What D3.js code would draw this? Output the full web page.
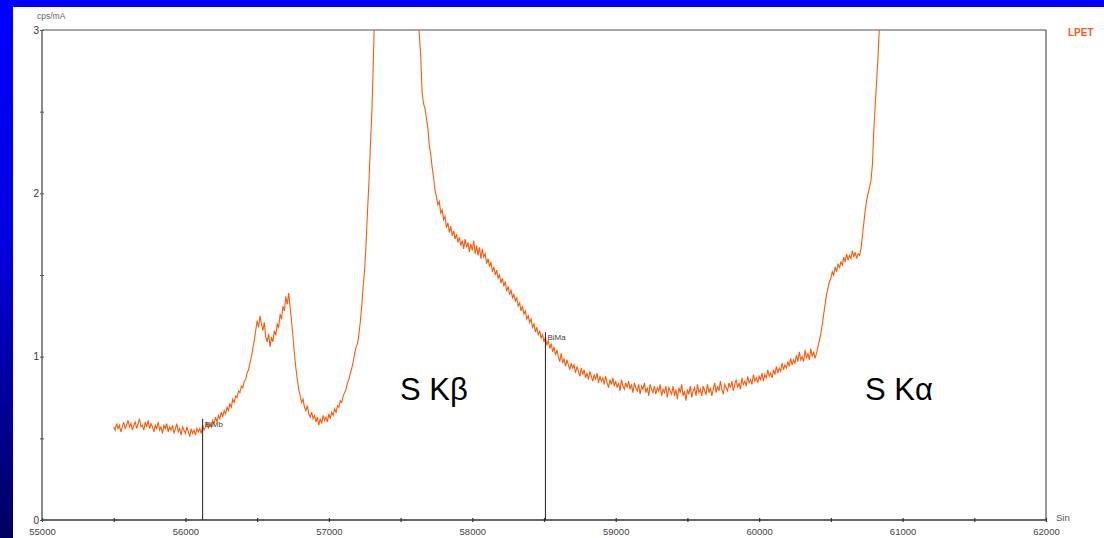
<!DOCTYPE html>
<html>
<head>
<meta charset="utf-8">
<script src="https://cdn.jsdelivr.net/npm/d3@7/dist/d3.min.js"></script>
<style>
  html, body { margin: 0; padding: 0; background: #fff; }
  svg { display: block; }
  text { font-family: "Liberation Sans", Arial, sans-serif; }
</style>
</head>
<body>
<svg id="chart" width="1104" height="538"></svg>
<script>
// ---- data ----
const scanStart = 55500;   // sin units
const scanStep = 10;
const counts = [
  0.57,0.55,0.59,0.56,0.58,0.54,0.57,0.60,0.56,0.58,
  0.61,0.57,0.59,0.55,0.58,0.60,0.56,0.59,0.62,0.57,
  0.58,0.55,0.60,0.57,0.61,0.56,0.59,0.57,0.54,0.58,
  0.56,0.60,0.55,0.57,0.53,0.58,0.56,0.59,0.54,0.57,
  0.55,0.58,0.53,0.56,0.59,0.54,0.56,0.52,0.57,0.55,
  0.53,0.57,0.54,0.51,0.56,0.53,0.55,0.52,0.56,0.54,
  0.56,0.53,0.58,0.55,0.57,0.60,0.56,0.59,0.57,0.61,
  0.59,0.63,0.60,0.64,0.62,0.66,0.63,0.67,0.65,0.69,
  0.67,0.71,0.69,0.74,0.72,0.76,0.75,0.79,0.78,0.82,
  0.81,0.85,0.86,0.90,0.92,0.96,1.00,1.05,1.10,1.16,
  1.22,1.18,1.25,1.20,1.16,1.21,1.12,1.09,1.14,1.06,
  1.12,1.09,1.16,1.13,1.20,1.18,1.26,1.23,1.31,1.28,
  1.37,1.32,1.39,1.30,1.22,1.12,1.02,0.93,0.86,0.80,
  0.76,0.72,0.74,0.69,0.67,0.70,0.65,0.63,0.66,0.62,
  0.64,0.60,0.63,0.58,0.62,0.59,0.64,0.61,0.63,0.60,
  0.65,0.62,0.66,0.64,0.68,0.66,0.70,0.69,0.73,0.72,
  0.76,0.78,0.80,0.84,0.86,0.90,0.93,0.97,1.02,1.06,
  1.08,1.14,1.22,1.32,1.44,1.54,1.70,1.90,2.08,2.30,
  2.50,2.80,3.15,3.50,3.90,4.30,4.70,5.05,5.30,5.50,
  5.65,5.75,5.82,5.86,5.88,5.86,5.82,5.75,5.65,5.55,
  5.40,5.25,5.05,4.85,4.65,4.45,4.25,4.05,3.85,3.65,
  3.45,3.28,3.12,2.98,2.85,2.62,2.55,2.52,2.46,2.40,
  2.30,2.24,2.16,2.10,2.02,1.98,1.93,1.95,1.88,1.90,
  1.84,1.86,1.79,1.82,1.76,1.80,1.74,1.77,1.72,1.75,
  1.70,1.73,1.68,1.71,1.66,1.72,1.67,1.70,1.64,1.69,
  1.65,1.71,1.63,1.68,1.62,1.67,1.60,1.66,1.61,1.63,
  1.57,1.60,1.55,1.58,1.52,1.55,1.50,1.53,1.48,1.50,
  1.45,1.48,1.43,1.46,1.40,1.43,1.38,1.41,1.36,1.38,
  1.34,1.36,1.31,1.33,1.28,1.31,1.26,1.28,1.23,1.25,
  1.21,1.23,1.18,1.20,1.15,1.18,1.13,1.16,1.11,1.14,
  1.09,1.12,1.07,1.10,1.05,1.08,1.03,1.06,1.01,1.04,
  1.00,0.97,1.02,0.96,0.99,0.94,0.98,0.95,0.92,0.96,
  0.93,0.95,0.90,0.94,0.91,0.88,0.93,0.89,0.92,0.87,
  0.90,0.86,0.91,0.88,0.85,0.89,0.86,0.90,0.84,0.88,
  0.85,0.87,0.83,0.88,0.84,0.81,0.86,0.83,0.87,0.82,
  0.85,0.81,0.84,0.79,0.86,0.82,0.80,0.84,0.81,0.85,
  0.80,0.83,0.78,0.84,0.81,0.79,0.83,0.77,0.82,0.80,
  0.84,0.78,0.81,0.76,0.83,0.80,0.78,0.82,0.77,0.81,
  0.79,0.83,0.76,0.80,0.78,0.82,0.75,0.81,0.79,0.77,
  0.82,0.76,0.80,0.74,0.81,0.78,0.83,0.76,0.79,0.73,
  0.80,0.77,0.82,0.75,0.79,0.81,0.76,0.83,0.78,0.80,
  0.76,0.82,0.79,0.77,0.83,0.78,0.81,0.76,0.80,0.84,
  0.78,0.82,0.79,0.85,0.80,0.77,0.83,0.81,0.79,0.84,
  0.81,0.85,0.79,0.83,0.86,0.81,0.84,0.80,0.87,0.83,
  0.85,0.82,0.88,0.84,0.86,0.83,0.89,0.85,0.87,0.84,
  0.88,0.86,0.90,0.85,0.89,0.87,0.92,0.88,0.90,0.87,
  0.92,0.89,0.94,0.90,0.93,0.91,0.96,0.92,0.95,0.93,
  0.97,0.94,0.99,0.95,0.98,0.96,1.01,0.97,1.03,0.98,
  1.00,0.97,1.04,0.99,1.02,0.98,1.05,1.00,1.03,0.99,
  1.02,1.06,1.10,1.14,1.20,1.26,1.32,1.38,1.42,1.46,
  1.48,1.52,1.50,1.55,1.52,1.57,1.54,1.58,1.56,1.61,
  1.58,1.63,1.59,1.62,1.60,1.65,1.61,1.64,1.60,1.63,
  1.62,1.66,1.74,1.82,1.90,1.96,2.00,2.04,2.08,2.18,
  2.40,2.55,2.70,2.86,3.05,3.30,3.60
];
const markerNames = ["BiMb", "BiMa"];
const markerPositions = [56120, 58510];
const markerHeights = [0.62, 1.15];
const peakLabels = ["S K\u03B2", "S K\u03B1"];
const peakLabelPositions = [57496, 60738];
const peakLabelHeights = [0.735, 0.735];
const xTicks = [55000,55500,56000,56500,57000,57500,58000,58500,59000,59500,60000,60500,61000,61500,62000];
const xTickLabels = ["55000","56000","57000","58000","59000","60000","61000","62000"];
const yTicks = [0,0.5,1,1.5,2,2.5,3];
const yTickLabels = ["0","1","2","3"];
const seriesName = "LPET";

// ---- layout ----
const svg = d3.select("#chart");
const W = 1104, H = 538;
const x = d3.scaleLinear().domain([55000, 62000]).range([42, 1046]);
const y = d3.scaleLinear().domain([0, 3]).range([520, 30]);

const defs = svg.append("defs");
const grad = defs.append("linearGradient").attr("id", "leftGrad")
  .attr("x1", 0).attr("y1", 0).attr("x2", 0).attr("y2", 1);
grad.append("stop").attr("offset", "0%").attr("stop-color", "#0000ff");
grad.append("stop").attr("offset", "45%").attr("stop-color", "#0000e0");
grad.append("stop").attr("offset", "100%").attr("stop-color", "#000060");
defs.append("clipPath").attr("id", "plotClip")
  .append("rect").attr("x", x(55000)).attr("y", y(3)).attr("width", x(62000) - x(55000)).attr("height", y(0) - y(3));

svg.append("rect").attr("x", 0).attr("y", 0).attr("width", W).attr("height", H).attr("fill", "#fff");
svg.append("rect").attr("x", 0).attr("y", 0).attr("width", 13).attr("height", H).attr("fill", "url(#leftGrad)");
svg.append("rect").attr("x", 0).attr("y", 0).attr("width", W).attr("height", 7).attr("fill", "#0000ff");

// frame lines
svg.append("line").attr("x1", x(55000)).attr("x2", x(62000)).attr("y1", y(3)).attr("y2", y(3))
  .attr("stroke", "#8a8a8a").attr("stroke-width", 1.5);
svg.append("line").attr("x1", x(62000)).attr("x2", x(62000)).attr("y1", y(3)).attr("y2", y(0))
  .attr("stroke", "#555").attr("stroke-width", 1.2);
svg.append("line").attr("x1", x(55000)).attr("x2", x(55000)).attr("y1", y(3)).attr("y2", y(0))
  .attr("stroke", "#8a8a8a").attr("stroke-width", 2);

// x axis
const xAxis = d3.axisBottom(x).tickValues(xTicks).tickSize(4).tickSizeOuter(0)
  .tickFormat(d => xTickLabels.includes(String(d)) ? String(d) : "");
const gx = svg.append("g").attr("transform", `translate(0,${y(0) - 2})`).call(xAxis);
gx.select(".domain").remove();
gx.selectAll(".tick line").attr("stroke", "#333").attr("stroke-width", 1.2);
gx.selectAll(".tick text").attr("y", 10).attr("fill", "#444").style("font-size", "9.5px")
  .style("font-family", "'Liberation Sans', Arial, sans-serif");
svg.append("line").attr("x1", x(55000)).attr("x2", x(62000)).attr("y1", y(0)).attr("y2", y(0))
  .attr("stroke", "#333").attr("stroke-width", 1.5);

// y axis
const yAxis = d3.axisLeft(y).tickValues(yTicks).tickSize(4).tickSizeOuter(0)
  .tickFormat(d => yTickLabels.includes(String(d)) ? String(d) : "");
const gy = svg.append("g").attr("transform", `translate(${x(55000) + 2},0)`).call(yAxis);
gy.select(".domain").remove();
gy.selectAll(".tick line").attr("stroke", "#555").attr("stroke-width", 1);
gy.selectAll(".tick text").attr("x", -5).attr("fill", "#333").style("font-size", "10px")
  .style("font-family", "'Liberation Sans', Arial, sans-serif");

// axis titles
svg.append("text").attr("x", 37).attr("y", 19).text("cps/mA")
  .attr("fill", "#666").style("font-size", "8.5px");
svg.append("text").attr("x", 1056).attr("y", 521).text("Sin")
  .attr("fill", "#555").style("font-size", "9.5px");
svg.append("text").attr("x", 1068).attr("y", 36).text(seriesName)
  .attr("fill", "#ff5a1a").style("font-size", "10px").style("font-weight", "bold");

// spectrum
const pts = counts.map((v, i) => [scanStart + i * scanStep, v]);
const line = d3.line().x(d => x(d[0])).y(d => y(d[1]));
svg.append("path").datum(pts).attr("d", line)
  .attr("clip-path", "url(#plotClip)")
  .attr("fill", "none").attr("stroke", "#ff5a0a").attr("stroke-width", 1.1);

// markers
const markers = markerNames.map((n, i) => ({ n, p: markerPositions[i], h: markerHeights[i] }));
svg.selectAll(".mk").data(markers).join("line").attr("class", "mk")
  .attr("x1", d => x(d.p)).attr("x2", d => x(d.p))
  .attr("y1", d => y(d.h)).attr("y2", y(0))
  .attr("stroke", "#222").attr("stroke-width", 1);
svg.selectAll(".mkl").data(markers).join("text").attr("class", "mkl")
  .attr("x", d => x(d.p) + 2).attr("y", d => y(d.h) + 8)
  .text(d => d.n).attr("fill", "#444").style("font-size", "8px");

// peak labels
svg.selectAll(".pl").data(peakLabels).join("text").attr("class", "pl")
  .attr("x", (d, i) => x(peakLabelPositions[i]))
  .attr("y", (d, i) => y(peakLabelHeights[i]))
  .text(d => d).attr("fill", "#000").style("font-size", "31px");
</script>
</body>
</html>
